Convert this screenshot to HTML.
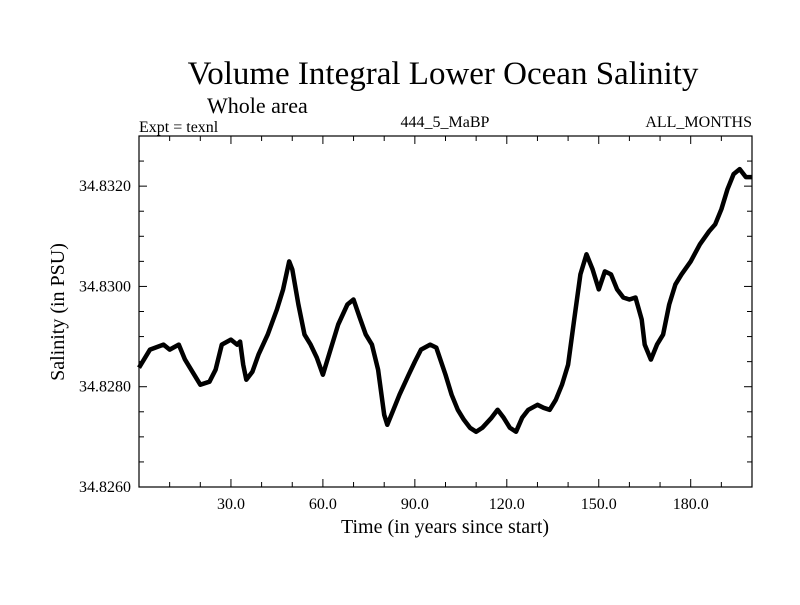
<!DOCTYPE html>
<html><head><meta charset="utf-8"><style>
body{margin:0;background:#fff}
svg text{font-family:"Liberation Serif",serif;fill:#000}
</style></head><body>
<svg id="chart" width="800" height="600" viewBox="0 0 800 600" xmlns="http://www.w3.org/2000/svg">
<text x="443" y="84" font-size="33" text-anchor="middle">Volume Integral Lower Ocean Salinity</text>
<text x="207" y="113" font-size="22">Whole area</text>
<text x="139" y="132" font-size="16">Expt = texnl</text>
<text x="445" y="127" font-size="16" text-anchor="middle">444_5_MaBP</text>
<text x="752" y="127" font-size="16" text-anchor="end">ALL_MONTHS</text>
<text x="445" y="533" font-size="20" text-anchor="middle">Time (in years since start)</text>
<text transform="translate(64,312) rotate(-90)" font-size="20" text-anchor="middle">Salinity (in PSU)</text>
<g id="axes"></g>
<g id="series"></g>
<rect x="139" y="136" width="613" height="351" fill="none" stroke="#000" stroke-width="1.2"/>
</svg>
<script>
const years=[0,3.6,8,10,13,15,18,20,23,25,27,30,32,33,34,35,37,39,42,45,47,49,50,52,54,56,58,60,62,65,68,70,72,74,76,78,80,81,83,85,88,90,92,95,97,100,102,104,106,108,110,112,115,117,119,121,123,125,127,130,132,134,136,138,140,142,144,146,148,150,152,154,156,158,160,162,164,165,167,169,171,173,175,177,180,183,186,188,190,192,194,196,198,200];
const salinity=[34.82838,34.82874,34.82884,34.82874,34.82884,34.82854,34.82824,34.82804,34.8281,34.82834,34.82884,34.82894,34.82884,34.8289,34.82844,34.82814,34.8283,34.82864,34.82904,34.82954,34.82994,34.8305,34.83034,34.82964,34.82904,34.82884,34.82858,34.82824,34.82864,34.82924,34.82964,34.82974,34.82938,34.82904,34.82884,34.82834,34.82744,34.82724,34.82754,34.82784,34.82824,34.8285,34.82874,34.82884,34.82878,34.82824,34.82784,34.82754,34.82734,34.82718,34.8271,34.82718,34.82738,34.82754,34.82738,34.82718,34.8271,34.82738,34.82754,34.82764,34.82758,34.82754,34.82774,34.82804,34.82844,34.82934,34.83024,34.83064,34.83034,34.82994,34.8303,34.83024,34.82994,34.82978,34.82974,34.82978,34.82934,34.82884,34.82854,34.82884,34.82904,34.82964,34.83004,34.83024,34.8305,34.83084,34.8311,34.83124,34.83154,34.83194,34.83224,34.83234,34.83218,34.83218];
const xTicks=[30,60,90,120,150,180];
const xTickLabels=["30.0","60.0","90.0","120.0","150.0","180.0"];
const yTicks=[34.826,34.828,34.830,34.832];
const yTickLabels=["34.8260","34.8280","34.8300","34.8320"];
const X0=139,X1=752,Y0=487,Y1=136,XMIN=0,XMAX=200,YMIN=34.826,YMAX=34.833;
const xs=v=>X0+(v-XMIN)/(XMAX-XMIN)*(X1-X0);
const ys=v=>Y0-(v-YMIN)/(YMAX-YMIN)*(Y0-Y1);
const NS="http://www.w3.org/2000/svg";
const axes=document.getElementById('axes');
function mk(tag,attrs,parent){const e=document.createElementNS(NS,tag);for(const k in attrs)e.setAttribute(k,attrs[k]);parent.appendChild(e);return e;}
for(let t=10;t<XMAX;t+=10){
  const major=t%30===0,L=major?8:5,x=xs(t);
  const a=mk('line',{x1:x,x2:x,y1:Y0,y2:Y0-L,stroke:'#000'},axes);
  
  
  const b=mk('line',{x1:x,x2:x,y1:Y1,y2:Y1+L,stroke:'#000'},axes);
  
  
}
xTicks.forEach((t,i)=>{
  const e=mk('text',{x:xs(t),y:Y0+22,'font-size':16,'text-anchor':'middle'},axes);e.textContent=xTickLabels[i];
  
  
});
for(let v=YMIN+0.0005;v<YMAX-1e-6;v+=0.0005){
  const major=Math.abs(((v-YMIN)/0.002)-Math.round((v-YMIN)/0.002))<1e-3,L=major?8:5,y=ys(v);
  const a=mk('line',{x1:X0,x2:X0+L,y1:y,y2:y,stroke:'#000'},axes);
  
  
  const b=mk('line',{x1:X1,x2:X1-L,y1:y,y2:y,stroke:'#000'},axes);
  
  
}
yTicks.forEach((t,i)=>{
  const e=mk('text',{x:X0-8,y:ys(t)+5,'font-size':16,'text-anchor':'end'},axes);e.textContent=yTickLabels[i];
  
  
});
const d=years.map((t,i)=>(i?'L':'M')+xs(t).toFixed(1)+','+ys(salinity[i]).toFixed(1)).join(' ');
const p=mk('path',{d:d,fill:'none',stroke:'#000','stroke-width':4.5,'stroke-linejoin':'round'},document.getElementById('series'));


</script>
</body></html>
